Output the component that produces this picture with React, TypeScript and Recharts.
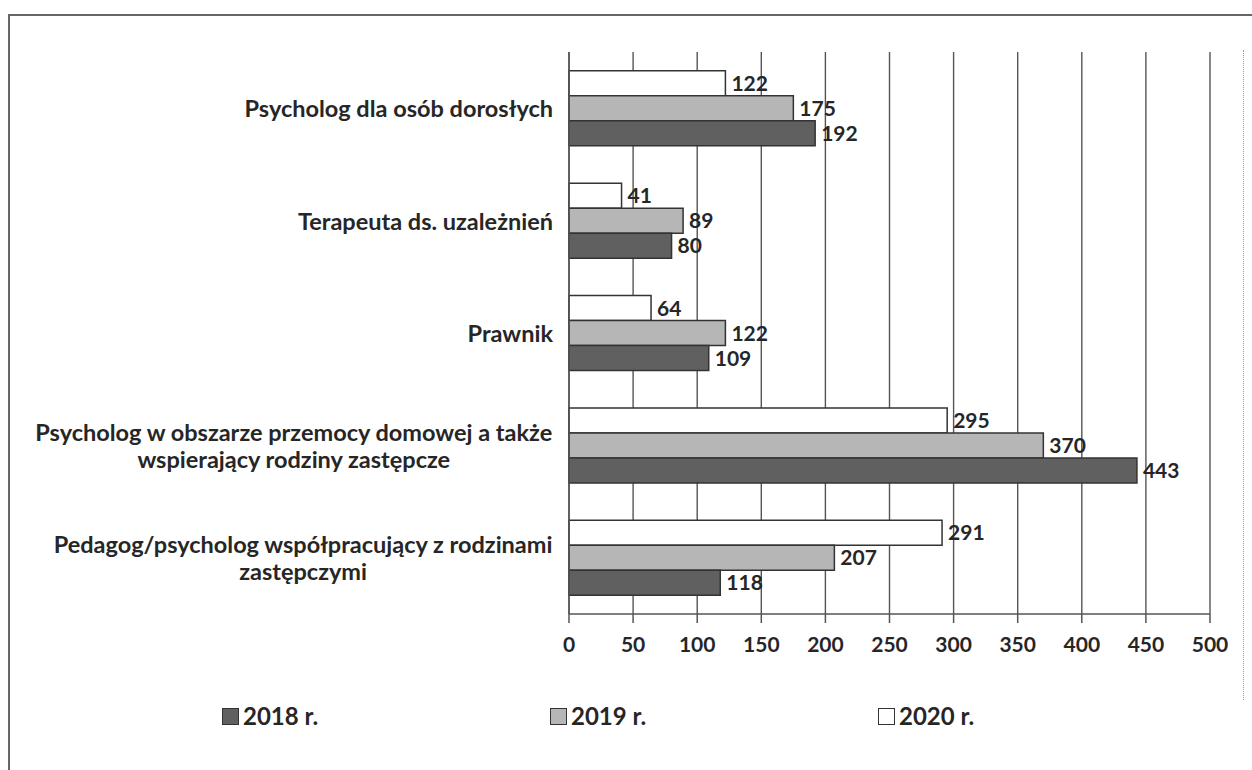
import React from "react";
import {
  BarChart,
  Bar,
  XAxis,
  YAxis,
  CartesianGrid,
  Legend,
  LabelList,
} from "recharts";

const categories = [
  "Psycholog dla osób dorosłych",
  "Terapeuta ds. uzależnień",
  "Prawnik",
  "Psycholog w obszarze przemocy domowej a także\nwspierający rodziny zastępcze",
  "Pedagog/psycholog współpracujący z rodzinami\nzastępczymi",
];
const values2018 = [192, 80, 109, 443, 118];
const values2019 = [175, 89, 122, 370, 207];
const values2020 = [122, 41, 64, 295, 291];
const xTicks = [0, 50, 100, 150, 200, 250, 300, 350, 400, 450, 500];
const boundaryTicks = [0, 1, 2, 3, 4, 5];
const seriesNames = ["2018 r.", "2019 r.", "2020 r."];

const FONT = "Lato, 'Open Sans', sans-serif";
const FS_CAT = 23.5;
const FS_NUM = 21;
const FS_LEG = 24;
const INK = "#262626";
const LINE = "#555";
const fills = ["#606060", "#b6b6b6", "#ffffff"];

const data = categories.map((name, i) => ({
  name,
  y2018: values2018[i],
  y2019: values2019[i],
  y2020: values2020[i],
}));

let ctx: CanvasRenderingContext2D | null = null;
function measure(s: string) {
  if (!ctx) ctx = document.createElement("canvas").getContext("2d");
  if (!ctx) return s.length * 11;
  ctx.font = `bold ${FS_CAT}px Lato`;
  return ctx.measureText(s).width;
}

// Excel-style wrapped label: block right aligned, lines centred in it
function CategoryTick(props: any) {
  const { x, y, payload } = props;
  const lines = String(payload.value).split("\n");
  const blockW = Math.max(...lines.map(measure));
  const cx = x - blockW / 2;
  const lh = 27;
  const top = y - ((lines.length - 1) * lh) / 2;
  return (
    <g>
      {lines.map((l, i) => (
        <text
          key={i}
          x={cx}
          y={top + i * lh}
          textAnchor="middle"
          dominantBaseline="central"
          fill={INK}
          fontFamily={FONT}
          fontWeight={700}
          fontSize={FS_CAT}
        >
          {l}
        </text>
      ))}
    </g>
  );
}

function LegendContent() {
  return (
    <div style={{ display: "flex" }}>
      {seriesNames.map((n, i) => (
        <div
          key={n}
          style={{ width: 328, display: "flex", alignItems: "center" }}
        >
          <span
            style={{
              display: "inline-block",
              width: 17,
              height: 17,
              background: fills[i],
              border: "1.5px solid #333",
              boxSizing: "border-box",
              marginRight: 4,
            }}
          />
          <span
            style={{
              fontFamily: FONT,
              fontWeight: 700,
              fontSize: FS_LEG,
              color: INK,
              lineHeight: "28px",
            }}
          >
            {n}
          </span>
        </div>
      ))}
    </div>
  );
}

const labelStyle = {
  fill: INK,
  fontFamily: FONT,
  fontWeight: 700,
  fontSize: FS_NUM,
};

export default function App() {
  return (
    <div style={{ position: "relative", width: 1252, height: 770, background: "#fff" }}>
      <style>{"body{margin:0;}"}</style>
      <div style={{ position: "absolute", left: 8, top: 14, width: 1244, height: 2, background: "#666" }} />
      <div style={{ position: "absolute", left: 8, top: 14, width: 2, height: 756, background: "#666" }} />
      <div style={{ position: "absolute", left: 1243, top: 50, width: 0, height: 650, borderLeft: "1px dotted #999" }} />
      <div style={{ position: "absolute", left: 0, top: 0 }}>
        <BarChart
          width={1252}
          height={770}
          data={data}
          layout="vertical"
          margin={{ top: 52, right: 42, left: 0, bottom: 116 }}
          barCategoryGap="16.7%"
          barGap={0}
        >
          <CartesianGrid
            horizontal={false}
            stroke={LINE}
            strokeWidth={1.4}
            yAxisId="cat"
          />
          <XAxis
            type="number"
            domain={[0, 500]}
            ticks={xTicks}
            interval={0}
            tickSize={9}
            tickMargin={14}
            height={40}
            axisLine={{ stroke: LINE, strokeWidth: 1.5 }}
            tickLine={{ stroke: LINE, strokeWidth: 1.5 }}
            tick={{ fill: INK, fontSize: FS_NUM, fontWeight: 700, fontFamily: FONT }}
          />
          <XAxis
            xAxisId="top"
            orientation="top"
            type="number"
            domain={[0, 500]}
            tick={false}
            tickLine={false}
            height={0}
            axisLine={{ stroke: LINE, strokeWidth: 1.5 }}
          />
          <YAxis
            yAxisId="marks"
            type="number"
            domain={[0, 5]}
            ticks={boundaryTicks}
            interval={0}
            tick={false}
            tickSize={7}
            width={0}
            axisLine={false}
            tickLine={{ stroke: LINE, strokeWidth: 1.5 }}
          />
          <YAxis
            yAxisId="cat"
            type="category"
            dataKey="name"
            width={569}
            interval={0}
            tickSize={0}
            tickLine={false}
            tickMargin={16}
            axisLine={{ stroke: LINE, strokeWidth: 1.5 }}
            tick={<CategoryTick />}
          />
          <Legend
            layout="horizontal"
            verticalAlign="middle"
            align="center"
            wrapperStyle={{ left: 222, top: 702, width: 1000 }}
            content={() => <LegendContent />}
          />
          <Bar dataKey="y2020" name="2020 r." yAxisId="cat" fill={fills[2]} stroke="#333" strokeWidth={1.5} isAnimationActive={false}>
            <LabelList dataKey="y2020" position="right" offset={6} style={labelStyle} />
          </Bar>
          <Bar dataKey="y2019" name="2019 r." yAxisId="cat" fill={fills[1]} stroke="#333" strokeWidth={1.5} isAnimationActive={false}>
            <LabelList dataKey="y2019" position="right" offset={6} style={labelStyle} />
          </Bar>
          <Bar dataKey="y2018" name="2018 r." yAxisId="cat" fill={fills[0]} stroke="#333" strokeWidth={1.5} isAnimationActive={false}>
            <LabelList dataKey="y2018" position="right" offset={6} style={labelStyle} />
          </Bar>
        </BarChart>
      </div>
    </div>
  );
}
